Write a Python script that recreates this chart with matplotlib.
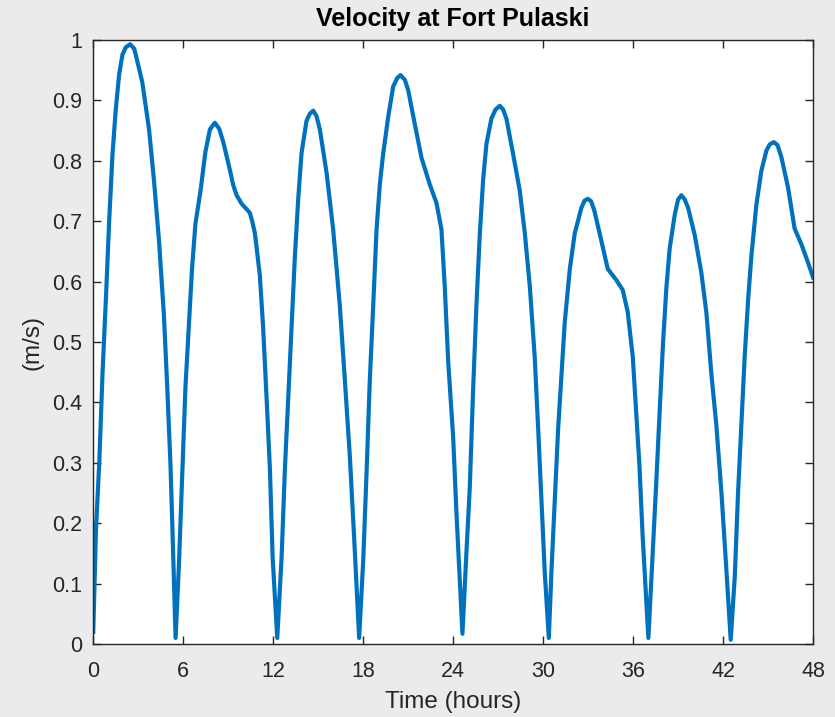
import matplotlib
matplotlib.use("Agg")
import matplotlib.pyplot as plt

# Time (hours) and velocity (m/s)
time_h = [0, 0.18, 0.4, 0.62, 0.84, 1.06, 1.28, 1.5, 1.73, 1.95, 2.17, 2.46, 2.72, 2.83,
          3.27, 3.72, 4.05, 4.38, 4.71, 4.93, 5.15, 5.31, 5.49, 5.71, 5.93, 6.15, 6.37,
          6.59, 6.81, 7.15, 7.48, 7.78, 8.11, 8.4, 8.67, 9.11, 9.33, 9.56, 9.89, 10.22,
          10.44, 10.6, 10.78, 11.11, 11.33, 11.56, 11.78, 11.96, 12.27, 12.56, 12.78,
          13.0, 13.22, 13.44, 13.67, 13.89, 14.22, 14.44, 14.67, 14.89, 15.11, 15.56,
          16.0, 16.44, 16.78, 17.11, 17.44, 17.73, 18.0, 18.22, 18.44, 18.67, 18.89,
          19.11, 19.33, 19.67, 20.0, 20.27, 20.49, 20.78, 21.0, 21.44, 21.89, 22.44,
          22.89, 23.22, 23.44, 23.67, 24.0, 24.22, 24.62, 24.89, 25.11, 25.33, 25.55,
          25.78, 26.0, 26.22, 26.55, 26.83, 27.11, 27.33, 27.55, 28.0, 28.44, 28.78,
          29.11, 29.44, 29.67, 29.89, 30.11, 30.38, 30.55, 30.78, 31.0, 31.22, 31.44,
          31.78, 32.11, 32.55, 32.76, 32.98, 33.2, 33.42, 33.87, 34.31, 34.87, 35.31,
          35.64, 35.98, 36.2, 36.42, 36.64, 37.02, 37.33, 37.55, 37.78, 38.0, 38.22,
          38.44, 38.78, 39.0, 39.22, 39.44, 39.67, 40.11, 40.55, 40.89, 41.22, 41.55,
          41.89, 42.18, 42.51, 42.78, 43.0, 43.22, 43.44, 43.67, 43.89, 44.22, 44.55,
          44.89, 45.11, 45.38, 45.63, 45.89, 46.33, 46.77, 47.22, 47.66, 48.0]
velocity = [0.02, 0.19, 0.30, 0.45, 0.57, 0.70, 0.81, 0.885, 0.944, 0.976, 0.988, 0.993,
            0.986, 0.976, 0.93, 0.852, 0.767, 0.669, 0.545, 0.427, 0.296, 0.165, 0.01,
            0.13, 0.28, 0.427, 0.525, 0.623, 0.695, 0.75, 0.815, 0.852, 0.863, 0.853,
            0.831, 0.785, 0.76, 0.743, 0.729, 0.72, 0.714, 0.70, 0.680, 0.610, 0.523,
            0.406, 0.290, 0.144, 0.01, 0.144, 0.29, 0.406, 0.523, 0.639, 0.738, 0.813,
            0.866, 0.878, 0.883, 0.874, 0.852, 0.78, 0.686, 0.561, 0.436, 0.311, 0.155,
            0.01, 0.137, 0.28, 0.436, 0.561, 0.686, 0.761, 0.811, 0.873, 0.923, 0.937,
            0.942, 0.934, 0.917, 0.861, 0.805, 0.761, 0.730, 0.686, 0.592, 0.467, 0.343,
            0.217, 0.017, 0.154, 0.26, 0.42, 0.56, 0.68, 0.769, 0.828, 0.870, 0.885,
            0.891, 0.885, 0.870, 0.811, 0.751, 0.680, 0.593, 0.475, 0.356, 0.238, 0.118,
            0.01, 0.118, 0.238, 0.356, 0.444, 0.532, 0.621, 0.680, 0.722, 0.734, 0.737,
            0.733, 0.717, 0.669, 0.621, 0.603, 0.586, 0.550, 0.475, 0.385, 0.297, 0.177,
            0.01, 0.16, 0.27, 0.39, 0.50, 0.59, 0.655, 0.711, 0.736, 0.743, 0.736, 0.722,
            0.677, 0.615, 0.548, 0.447, 0.363, 0.251, 0.139, 0.007, 0.111, 0.251, 0.363,
            0.475, 0.570, 0.643, 0.727, 0.783, 0.817, 0.827, 0.831, 0.826, 0.806, 0.756,
            0.688, 0.662, 0.632, 0.607]

x_ticks = [0, 6, 12, 18, 24, 30, 36, 42, 48]
y_ticks = [0, 0.1, 0.2, 0.3, 0.4, 0.5, 0.6, 0.7, 0.8, 0.9, 1]
y_tick_labels = ["0", "0.1", "0.2", "0.3", "0.4", "0.5", "0.6", "0.7", "0.8", "0.9", "1"]

plt.rcParams['font.family'] = ['Liberation Sans', 'DejaVu Sans']

fig = plt.figure(figsize=(8.35, 7.17), dpi=100, facecolor='#EBEBEB')
ax = fig.add_axes([0.1117, 0.1018, 0.8620, 0.8424])
ax.set_facecolor('white')

ax.plot(time_h, velocity, color='#0072BD', linewidth=3.0, solid_joinstyle='round')

ax.set_xlim(0, 48)
ax.set_ylim(0, 1)
ax.set_xticks(x_ticks)
ax.set_xticklabels([str(t) for t in x_ticks])
ax.set_yticks(y_ticks)
ax.set_yticklabels(y_tick_labels)

axcol = '#262626'
for s in ax.spines.values():
    s.set_color(axcol)
    s.set_linewidth(1.0)
ax.tick_params(direction='in', length=6, width=1.0, color=axcol, labelcolor=axcol,
               labelsize=15.5, top=True, right=True)
ax.tick_params(axis='x', pad=12)
ax.tick_params(axis='y', pad=8)

ax.set_title("Velocity at Fort Pulaski", fontsize=18, fontweight='bold', color='black', pad=10)
ax.set_xlabel("Time (hours)", fontsize=17.5, color=axcol, labelpad=7)
ax.set_ylabel("(m/s)", fontsize=17.5, color=axcol, labelpad=6)

fig.savefig("out.png", dpi=100, facecolor=fig.get_facecolor())
